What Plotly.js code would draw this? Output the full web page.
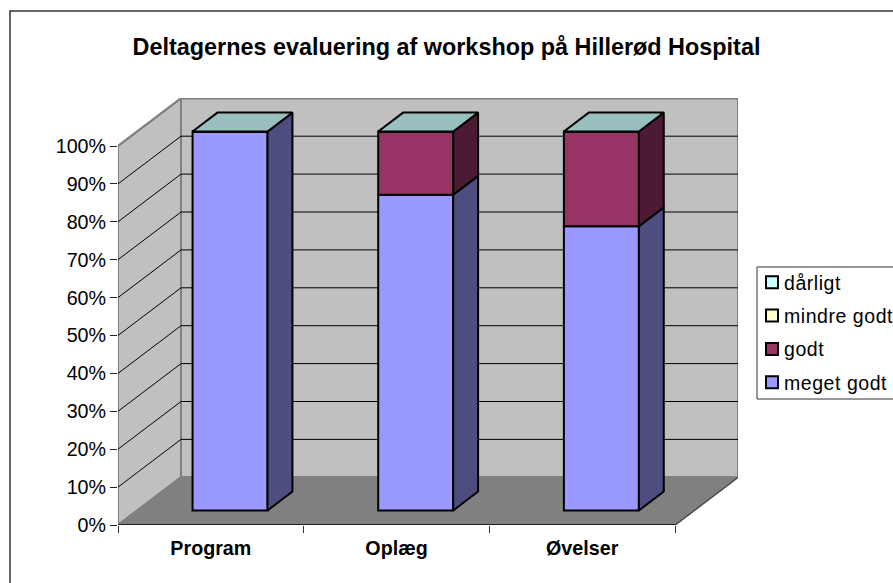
<!DOCTYPE html>
<html>
<head>
<meta charset="utf-8">
<script src="https://cdn.plot.ly/plotly-3.0.1.min.js"></script>
<style>html,body{margin:0;padding:0;background:#fff;overflow:hidden}
.legendtext{letter-spacing:0.55px}</style>
</head>
<body>
<div id="chart" style="width:893px;height:583px"></div>
<script>
const categories = ['Program', 'Oplæg', 'Øvelser'];
const megetGodt = [100, 83.3, 75];
const godt = [0, 16.7, 25];
const mindreGodt = [0, 0, 0];
const daarligt = [0, 0, 0];
const yTicks = [0, 10, 20, 30, 40, 50, 60, 70, 80, 90, 100];
const yTickLabels = ['0%', '10%', '20%', '30%', '40%', '50%', '60%', '70%', '80%', '90%', '100%'];

// 3-D look of the original: depth of the box and of the bars, in axis units
const DEPTH_X = 63 / 557 * 3, DEPTH_Y = 47.7 / 379 * 100;
const BAR_W = 75 / 557 * 3, FRONT = 0.305, BACK = 0.70;
const pt = (x, y, d) => [x + d * DEPTH_X, y + d * DEPTH_Y];
const polyPath = pts => 'M' + pts.map(p => p.join(',')).join('L') + 'Z';
const linePath = pts => 'M' + pts.map(p => p.join(',')).join('L');
const n = categories.length;

const wallShapes = [
  {fill:'#C0C0C0', pts:[pt(0,0,0), pt(0,0,1), pt(0,100,1), pt(0,100,0)]},
  {fill:'#C0C0C0', pts:[pt(0,0,1), pt(n,0,1), pt(n,100,1), pt(0,100,1)]},
  {fill:'#808080', pts:[pt(0,0,0), pt(n,0,0), pt(n,0,1), pt(0,0,1)]}
].map(w => ({type:'path', xref:'x', yref:'y', layer:'below', path:polyPath(w.pts),
  fillcolor:w.fill, line:{color:'#808080', width:2}}));

const gridShapes = yTicks.slice(1, -1).map(v => ({type:'path', xref:'x', yref:'y', layer:'below',
  path:linePath([pt(0,v,0), pt(0,v,1), pt(n,v,1)]), line:{color:'#000', width:1}}));
const topGrid = {type:'path', xref:'x', yref:'y', layer:'below',
  path:linePath([pt(0,100,1), pt(n,100,1)]), line:{color:'#808080', width:2}};
const topLeft = {type:'path', xref:'x', yref:'y', layer:'below',
  path:linePath([pt(0,100,0), pt(0,100,1)]), line:{color:'#808080', width:2}};
const floorEdges = [
  {type:'path', xref:'x', yref:'y', path:linePath([pt(n,0,0), pt(n,0,1)]), layer:'below', line:{color:'#333', width:1}},
  {type:'path', xref:'x', yref:'y', path:linePath([pt(0,0,0), pt(n,0,0)]), layer:'below', line:{color:'#000', width:1.5}}
];
const px = v => (v - 118) / 620, py = v => (525 - v) / 427;
const frame = {type:'rect', xref:'paper', yref:'paper', x0:px(10), x1:px(905), y0:py(600), y1:py(11),
  line:{color:'#333', width:1.5}, fillcolor:'rgba(0,0,0,0)', layer:'below'};
const legendBox = {type:'rect', xref:'paper', yref:'paper', x0:px(757), x1:px(905), y0:py(399), y1:py(267),
  line:{color:'#333', width:1}, fillcolor:'#fff', layer:'below'};

const series = [
  {name:'meget godt', values:megetGodt, color:'#9999FF', side:'#4D4D80', base:[0,0,0]},
  {name:'godt', values:godt, color:'#993366', side:'#4D1A33', base:megetGodt},
  {name:'mindre godt', values:mindreGodt, color:'#FFFFCC', side:'#808066', base:megetGodt.map((v,i)=>v+godt[i])},
  {name:'dårligt', values:daarligt, color:'#CCFFFF', side:'#668080', base:megetGodt.map((v,i)=>v+godt[i]+mindreGodt[i])}
];
const edge = {color:'#000', width:2};
const traces = [];
const center = i => i + 0.5;

series.forEach((s, k) => {
  traces.push({
    type:'bar', name:s.name, legendgroup:s.name, legendrank:4-k,
    x:categories.map((c,i) => center(i) + FRONT * DEPTH_X),
    y:s.values,
    base:s.base.map(b => b + FRONT * DEPTH_Y),
    width:BAR_W,
    marker:{color:s.color, line:{color:'#000', width:2}},
    hovertemplate:s.name + ': %{y}%<extra></extra>'
  });
});

const face = (pts, color) => ({type:'scatter', mode:'lines', x:pts.map(p=>p[0]), y:pts.map(p=>p[1]),
  fill:'toself', fillcolor:color, line:edge, showlegend:false, hoverinfo:'skip'});

series.forEach(s => {
  categories.forEach((c,i) => {
    if (s.values[i] <= 0) return;
    const R = center(i) + BAR_W/2, b = s.base[i], t = b + s.values[i];
    const p = [pt(R,b,FRONT), pt(R,b,BACK), pt(R,t,BACK), pt(R,t,FRONT)];
    traces.push(face(p.concat([p[0]]), s.side));
  });
});
categories.forEach((c,i) => {
  const L = center(i) - BAR_W/2, R = center(i) + BAR_W/2;
  const t = megetGodt[i] + godt[i] + mindreGodt[i] + daarligt[i];
  const p = [pt(L,t,FRONT), pt(R,t,FRONT), pt(R,t,BACK), pt(L,t,BACK)];
  traces.push(face(p.concat([p[0]]), '#99BFBF'));
});

const layout = {
  width:893, height:583, paper_bgcolor:'#fff', plot_bgcolor:'#fff',
  margin:{l:118, r:155, t:98, b:58, pad:0, autoexpand:false},
  barmode:'overlay', hovermode:'closest',
  font:{family:'"Liberation Sans", Arial, sans-serif', size:19.7, color:'#000'},
  title:{text:'Deltagernes evaluering af workshop på Hillerød Hospital', x:446.5/893, y:1-47/583,
    xanchor:'center', yanchor:'middle', font:{size:23.4, weight:'bold', color:'#000'}},
  xaxis:{range:[0, 3*620/557], tickmode:'array', tickvals:categories.map((c,i)=>i+0.5), ticktext:categories,
    ticks:'', showgrid:false, zeroline:false, showline:false, ticklabelstandoff:9,
    tickfont:{size:19.7, weight:'bold'},
    minor:{tickmode:'array', tickvals:[0,1,2,3], ticks:'outside', ticklen:7, tickwidth:1, tickcolor:'#333', showgrid:false}},
  yaxis:{range:[0, 100*427/379], tickmode:'array', tickvals:yTicks, ticktext:yTickLabels,
    ticks:'outside', ticklen:7, tickwidth:1.2, tickcolor:'#222', showgrid:false, zeroline:false, showline:false},
  legend:{x:px(752), xanchor:'left', y:py(263), yanchor:'top',
    bgcolor:'rgba(0,0,0,0)', borderwidth:0, traceorder:'grouped', tracegroupgap:5,
    font:{size:19.5}},
  shapes:[frame, legendBox].concat(wallShapes, gridShapes, [topGrid, topLeft], floorEdges)
};

Plotly.newPlot('chart', traces, layout, {displayModeBar:false, responsive:false}).then(gd => {
  gd.querySelectorAll('.legendtext').forEach(t => t.setAttribute('x', 32));
});
</script>
</body>
</html>
